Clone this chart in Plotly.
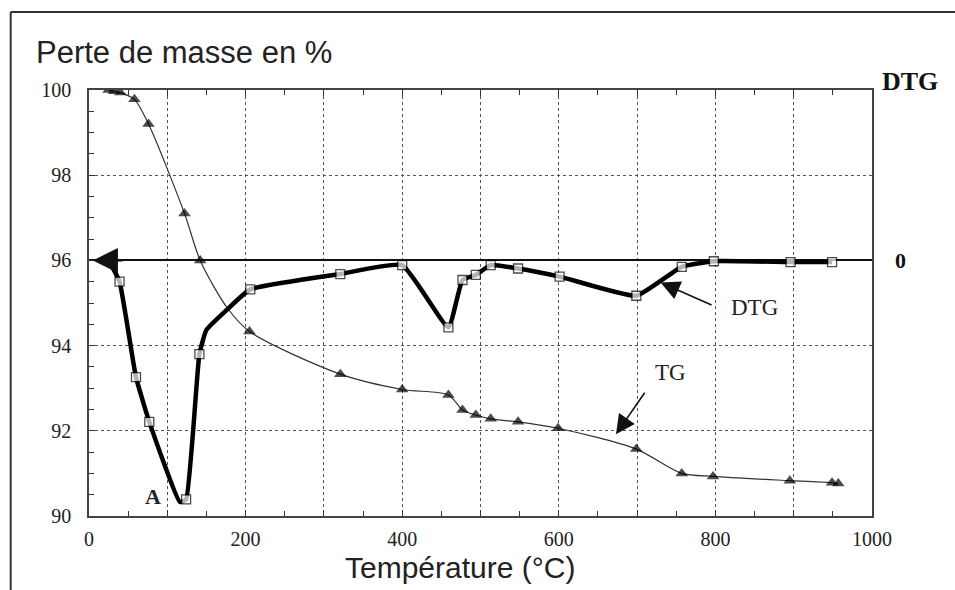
import plotly.graph_objects as go

# TG curve (mass %, left axis)
tg_temp = [25, 32, 40, 58, 76, 122, 142, 176, 205, 321, 400, 459, 477, 494, 513, 548, 599, 699, 757, 797, 895, 949, 957]
tg_mass = [100.0, 99.97, 99.94, 99.78, 99.2, 97.1, 96.0, 94.9, 94.33, 93.33, 92.97, 92.84, 92.49, 92.37, 92.28, 92.21, 92.06, 91.57, 91.0, 90.93, 90.83, 90.78, 90.76]
tg_marked = [1, 1, 1, 1, 1, 1, 1, 0, 1, 1, 1, 1, 1, 1, 1, 1, 1, 1, 1, 1, 1, 1, 1]

# DTG curve (right axis, 0 aligned with 96 %)
dtg_temp = [25, 39, 60, 77, 116, 124, 141, 150, 176, 206, 321, 400, 459, 477, 494, 513, 548, 601, 699, 757, 798, 896, 949]
dtg_val = [0.0, -0.5, -2.74, -3.79, -5.67, -5.61, -2.2, -1.63, -1.16, -0.68, -0.32, -0.11, -1.57, -0.46, -0.34, -0.11, -0.19, -0.38, -0.83, -0.15, -0.02, -0.04, -0.04]
dtg_marked = [0, 1, 1, 1, 0, 1, 1, 0, 0, 1, 1, 1, 1, 1, 1, 1, 1, 1, 1, 1, 1, 1, 1]

x_ticks = [0, 100, 200, 300, 400, 500, 600, 700, 800, 900, 1000]
x_labels = ["0", "", "200", "", "400", "", "600", "", "800", "", "1000"]
y_ticks = [90, 92, 94, 96, 98, 100]

SERIF = "Liberation Serif, Times New Roman, serif"
SANS = "Liberation Sans, Arial, sans-serif"

fig = go.Figure()

fig.add_trace(go.Scatter(
    x=tg_temp, y=tg_mass, mode="lines+markers", name="TG",
    line=dict(color="#333333", width=1.2, shape="spline", smoothing=0.8),
    marker=dict(symbol="triangle-up", size=[11 * m for m in tg_marked], color="#000000",
                line=dict(width=0)),
    yaxis="y", showlegend=False, hoverinfo="skip"))

fig.add_trace(go.Scatter(
    x=dtg_temp, y=dtg_val, mode="lines+markers", name="DTG",
    line=dict(color="#000000", width=4.5, shape="spline", smoothing=0.4),
    marker=dict(symbol="square", size=[9 * m for m in dtg_marked], color="#ffffff",
                line=dict(color="#000000", width=1.3)),
    yaxis="y2", showlegend=False, hoverinfo="skip"))

fig.update_layout(
    width=955, height=590,
    margin=dict(l=89, r=83, t=90, b=74),
    paper_bgcolor="white", plot_bgcolor="white",
    xaxis=dict(
        range=[0, 1000], tickmode="array", tickvals=x_ticks, ticktext=x_labels,
        ticks="inside", ticklen=6, tickcolor="#333", showline=True, linecolor="#444",
        linewidth=1.5, mirror="ticks", showgrid=True, gridcolor="#555", griddash="dot",
        gridwidth=1, zeroline=False,
        tickfont=dict(family=SERIF, size=20, color="#222"),
        minor=dict(dtick=50, tick0=0, ticks="inside", ticklen=5, tickcolor="#333", showgrid=False),
        ticklabelstandoff=4,
    ),
    yaxis=dict(
        range=[90, 100], tickmode="array", tickvals=y_ticks,
        ticks="inside", ticklen=6, tickcolor="#333", showline=True, linecolor="#444",
        linewidth=1.5, mirror=True, showgrid=True, gridcolor="#555", griddash="dot",
        gridwidth=1, zeroline=False,
        tickfont=dict(family=SERIF, size=20, color="#222"),
        minor=dict(dtick=0.5, tick0=90, ticks="inside", ticklen=5, tickcolor="#333", showgrid=False),
        ticklabelstandoff=12,
    ),
    yaxis2=dict(
        range=[-6, 4], overlaying="y", side="right", tickmode="array",
        tickvals=[0], ticktext=["<b>0</b>"], ticks="", showgrid=False,
        zeroline=True, zerolinecolor="#111", zerolinewidth=1.5, showline=False,
        tickfont=dict(family=SERIF, size=22, color="#111"),
        ticklabelstandoff=22,
    ),
)

ann = [
    dict(text="Perte de masse en %", xref="paper", yref="paper", x=-0.07, y=1.089,
         xanchor="left", yanchor="middle", showarrow=False,
         font=dict(family=SANS, size=31, color="#222")),
    dict(text="Température (°C)", xref="paper", yref="paper", x=0.474, y=-0.122,
         xanchor="center", yanchor="middle", showarrow=False,
         font=dict(family=SANS, size=30, color="#222")),
    dict(text="<b>DTG</b>", xref="paper", yref="paper", x=1.048, y=1.021,
         xanchor="center", yanchor="middle", showarrow=False,
         font=dict(family=SERIF, size=26, color="#111")),
    dict(text="<b>A</b>", xref="x", yref="y", x=82, y=90.45, showarrow=False,
         font=dict(family=SERIF, size=22, color="#222")),
    dict(text="DTG", xref="x", yref="y", x=850, y=94.9, showarrow=False,
         font=dict(family=SERIF, size=23, color="#222")),
    dict(text="TG", xref="x", yref="y", x=743, y=93.38, showarrow=False,
         font=dict(family=SERIF, size=23, color="#222")),
    dict(text="", xref="x", yref="y", x=730, y=95.48, axref="x", ayref="y", ax=797, ay=94.94,
         showarrow=True, arrowhead=2, arrowsize=2.4, arrowwidth=1.6, arrowcolor="#111"),
    dict(text="", xref="x", yref="y", x=673, y=91.92, axref="x", ayref="y", ax=711, ay=92.93,
         showarrow=True, arrowhead=2, arrowsize=2.4, arrowwidth=1.6, arrowcolor="#111"),
    dict(text="", xref="x", yref="y", x=5, y=96.0, axref="x", ayref="y", ax=45, ay=96.0,
         showarrow=True, arrowhead=2, arrowsize=2.5, arrowwidth=2, arrowcolor="#111"),
]
fig.update_layout(annotations=ann)

fig.update_layout(shapes=[
    dict(type="line", xref="paper", yref="paper", x0=-0.1, x1=-0.1, y0=1.183, y1=-0.18,
         line=dict(color="#333", width=2)),
    dict(type="line", xref="paper", yref="paper", x0=-0.1, x1=1.11, y0=1.183, y1=1.183,
         line=dict(color="#333", width=2)),
])

fig.write_html("out.html")
